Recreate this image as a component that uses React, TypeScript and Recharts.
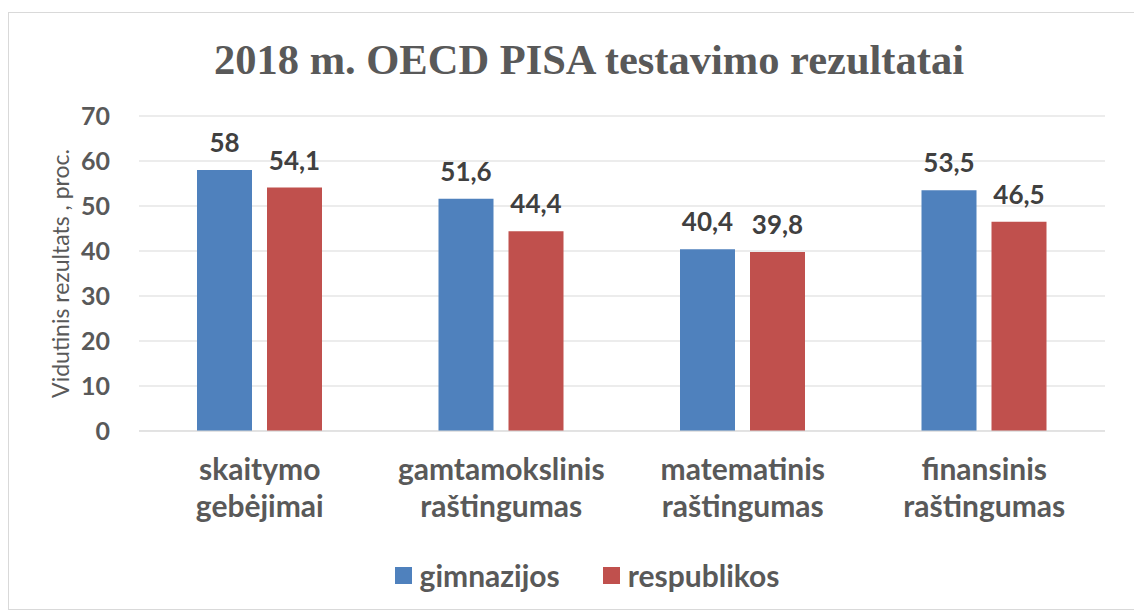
import { BarChart, Bar, XAxis, YAxis, CartesianGrid, Legend, LabelList } from 'recharts';

const categories = ['skaitymo gebėjimai', 'gamtamokslinis raštingumas', 'matematinis raštingumas', 'finansinis raštingumas'];
const gimnazijos = [58, 51.6, 40.4, 53.5];
const respublikos = [54.1, 44.4, 39.8, 46.5];
const yTicks = [0, 10, 20, 30, 40, 50, 60, 70];

const data = categories.map((c, i) => ({ name: c, gimnazijos: gimnazijos[i], respublikos: respublikos[i] }));

const FONT = 'Lato, "Open Sans", sans-serif';
const BLUE = '#4F81BD';
const RED = '#C0504D';

function CategoryTick({ x, y, payload }: any) {
  const lines = String(payload.value).split(' ');
  return (
    <text x={x} y={y} textAnchor="middle" fill="#595959" fontFamily={FONT} fontWeight={700} fontSize={30}>
      {lines.map((l, i) => (
        <tspan key={i} x={x} dy={i === 0 ? 41 : 37}>{l}</tspan>
      ))}
    </text>
  );
}

function LegendContent() {
  const items = [
    { label: 'gimnazijos', color: BLUE },
    { label: 'respublikos', color: RED },
  ];
  return (
    <div style={{ height: 30, display: 'flex', justifyContent: 'center', alignItems: 'center', gap: 43, paddingLeft: 60, boxSizing: 'border-box' }}>
      {items.map((it) => (
        <div key={it.label} style={{ display: 'flex', alignItems: 'center', gap: 8 }}>
          <span style={{ width: 17, height: 17, background: it.color, display: 'inline-block' }} />
          <span style={{ fontFamily: FONT, fontWeight: 700, fontSize: 30, color: '#595959', lineHeight: '30px' }}>{it.label}</span>
        </div>
      ))}
    </div>
  );
}

function YLabel({ viewBox }: any) {
  const cy = viewBox.y + viewBox.height / 2;
  const cx = 51;
  return (
    <text x={cx} y={cy} transform={`rotate(-90, ${cx}, ${cy})`} textAnchor="middle" dominantBaseline="central" fill="#595959" fontFamily={FONT} fontSize={23}>
      Vidutinis rezultats , proc.
    </text>
  );
}

export default function App() {
  return (
    <div style={{ position: 'relative', width: 1140, height: 598, marginTop: 4, border: '1px solid #D9D9D9', background: '#fff', boxSizing: 'border-box' }}>
      <div style={{ position: 'absolute', left: 22, right: 0, top: 22, textAlign: 'center', fontFamily: '"Liberation Serif", "Times New Roman", serif', fontWeight: 700, fontSize: 42.5, color: '#595959', zIndex: 1 }}>
        2018 m. OECD PISA testavimo rezultatai
      </div>
      <BarChart width={1134} height={596} data={data} margin={{ top: 103, right: 38, left: 0, bottom: 19 }} barGap={15} barCategoryGap={58}>
        <CartesianGrid vertical={false} stroke="#D9D9D9" />
        <XAxis dataKey="name" tick={<CategoryTick />} tickLine={false} axisLine={{ stroke: '#D9D9D9' }} height={129} interval={0} />
        <YAxis
          domain={[0, 70]}
          ticks={yTicks}
          width={130}
          axisLine={false}
          tickLine={false}
          tickSize={0}
          tickMargin={29}
          tick={{ fill: '#595959', fontFamily: FONT, fontWeight: 700, fontSize: 25 }}
          label={{ content: (p: any) => <YLabel {...p} /> }}
        />
        <Legend verticalAlign="bottom" content={<LegendContent />} />
        <Bar dataKey="gimnazijos" fill={BLUE} isAnimationActive={false}>
          <LabelList dataKey="gimnazijos" position="top" offset={18} fill="#404040" fontFamily={FONT} fontWeight={700} fontSize={26} formatter={(v: any) => String(v).replace('.', ',')} />
        </Bar>
        <Bar dataKey="respublikos" fill={RED} isAnimationActive={false}>
          <LabelList dataKey="respublikos" position="top" offset={18} fill="#404040" fontFamily={FONT} fontWeight={700} fontSize={26} formatter={(v: any) => String(v).replace('.', ',')} />
        </Bar>
      </BarChart>
    </div>
  );
}
